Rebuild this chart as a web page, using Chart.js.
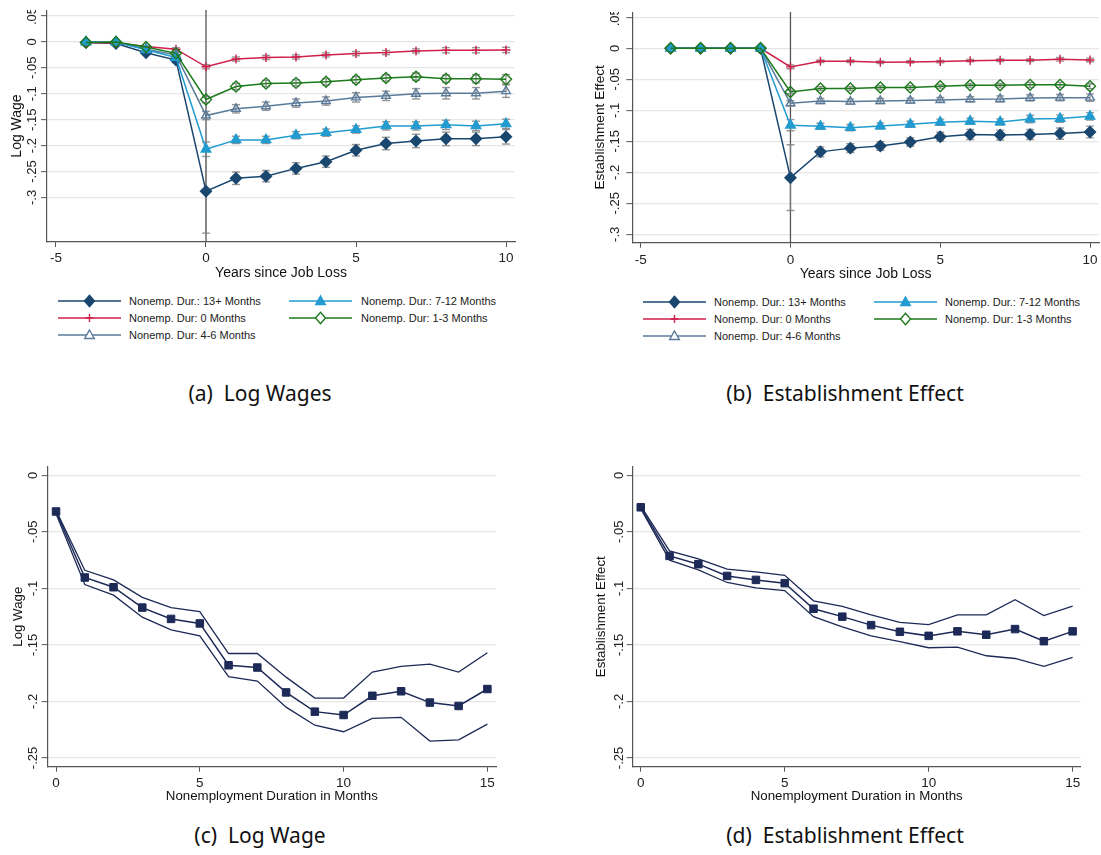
<!DOCTYPE html>
<html><head><meta charset="utf-8">
<script src="https://cdn.jsdelivr.net/npm/chart.js"></script>
<style>
html,body{margin:0;padding:0;background:#fff;}
body{width:1101px;height:855px;position:relative;overflow:hidden;font-family:"Liberation Sans",Arial,sans-serif;}
canvas{position:absolute;}
.cap{position:absolute;font-family:"Noto Sans",sans-serif;font-size:21px;color:#111;transform:translate(-50%,-50%);white-space:pre;}
.lg{position:absolute;font-size:11px;color:#222;white-space:nowrap;line-height:14px;}
svg.sym{position:absolute;overflow:visible;}
</style></head><body>
<canvas id="ca" width="530" height="280" style="left:0;top:10px"></canvas>
<canvas id="cb" width="521" height="278" style="left:580px;top:12px"></canvas>
<canvas id="cc" width="530" height="350" style="left:0;top:460px"></canvas>
<canvas id="cd" width="521" height="350" style="left:580px;top:460px"></canvas>
<div class="cap" style="left:260px;top:393px">(a)  Log Wages</div>
<div class="cap" style="left:845px;top:393px">(b)  Establishment Effect</div>
<div class="cap" style="left:260px;top:835px">(c)  Log Wage</div>
<div class="cap" style="left:845px;top:835px">(d)  Establishment Effect</div>
<div id="legends"></div>
<script>
// ---------- DATA ----------
const xYears = [-4,-3,-2,-1,0,1,2,3,4,5,6,7,8,9,10];
const xTicksYears = [-5,0,5,10];
const xMonths = [0,1,2,3,4,5,6,7,8,9,10,11,12,13,14,15];
const xTicksMonths = [0,5,10,15];
const yTicksTop = [0.05,0,-0.05,-0.1,-0.15,-0.2,-0.25,-0.3];
const yTickLabelsTop = ['.05','0','-.05','-.1','-.15','-.2','-.25','-.3'];
const yTicksBottom = [0,-0.05,-0.1,-0.15,-0.2,-0.25];
const yTickLabelsBottom = ['0','-.05','-.1','-.15','-.2','-.25'];
const seriesNames = ['Nonemp. Dur.: 13+ Months','Nonemp. Dur: 0 Months','Nonemp. Dur: 4-6 Months','Nonemp. Dur.: 7-12 Months','Nonemp. Dur: 1-3 Months'];

// (a) Log wage by years since job loss
const wage13plus = [-0.001,-0.003,-0.021,-0.035,-0.288,-0.263,-0.259,-0.244,-0.231,-0.209,-0.196,-0.191,-0.187,-0.187,-0.183];
const wage0      = [-0.001,-0.002,-0.009,-0.014,-0.048,-0.033,-0.030,-0.029,-0.025,-0.0225,-0.0206,-0.0174,-0.016,-0.016,-0.0155];
const wage4to6   = [0,0,-0.014,-0.025,-0.142,-0.129,-0.124,-0.118,-0.114,-0.107,-0.104,-0.100,-0.099,-0.099,-0.095];
const wage7to12  = [0,0,-0.015,-0.030,-0.207,-0.189,-0.189,-0.180,-0.175,-0.169,-0.162,-0.162,-0.160,-0.162,-0.158];
const wage1to3   = [-0.001,0,-0.010,-0.022,-0.111,-0.086,-0.080,-0.079,-0.077,-0.073,-0.0695,-0.067,-0.071,-0.071,-0.072];
const wage13plusCI = [0.002,0.003,0.004,0.005,0.081,0.012,0.011,0.011,0.011,0.011,0.012,0.013,0.013,0.013,0.014];
const wage0CI      = [0.001,0.001,0.002,0.003,0.004,0.004,0.004,0.004,0.004,0.004,0.004,0.004,0.005,0.005,0.005];
const wage4to6CI   = [0.001,0.002,0.003,0.004,0.008,0.008,0.008,0.008,0.008,0.009,0.009,0.010,0.011,0.011,0.012];
const wage7to12CI  = [0.001,0.002,0.003,0.004,0.014,0.007,0.007,0.007,0.007,0.007,0.008,0.008,0.009,0.009,0.009];
const wage1to3CI   = [0.001,0.001,0.002,0.003,0.006,0.006,0.006,0.006,0.006,0.006,0.006,0.007,0.007,0.008,0.009];

// (b) Establishment effect by years since job loss
const estab13plus = [0,0,0,0,-0.2086,-0.167,-0.161,-0.1575,-0.151,-0.1425,-0.139,-0.140,-0.139,-0.1376,-0.135];
const estab0      = [0,0,0,0,-0.030,-0.021,-0.021,-0.0226,-0.022,-0.0215,-0.020,-0.0194,-0.0194,-0.0177,-0.0188];
const estab4to6   = [0,0,0,0,-0.0887,-0.085,-0.086,-0.085,-0.0844,-0.0833,-0.0822,-0.0817,-0.080,-0.0796,-0.0796];
const estab7to12  = [0,0,0,0,-0.124,-0.1258,-0.128,-0.1253,-0.1226,-0.1193,-0.1177,-0.1188,-0.114,-0.1134,-0.1097];
const estab1to3   = [0,0,0,0,-0.0704,-0.065,-0.065,-0.0634,-0.0634,-0.0613,-0.0597,-0.0597,-0.059,-0.059,-0.0613];
const estab13plusCI = [0,0,0,0,0.053,0.008,0.007,0.007,0.007,0.007,0.008,0.008,0.008,0.009,0.0095];
const estab0CI      = [0,0,0,0,0.003,0.002,0.002,0.002,0.002,0.002,0.002,0.002,0.002,0.003,0.003];
const estab4to6CI   = [0,0,0,0,0.004,0.004,0.004,0.004,0.004,0.004,0.004,0.005,0.005,0.005,0.006];
const estab7to12CI  = [0,0,0,0,0.009,0.005,0.005,0.005,0.005,0.005,0.005,0.005,0.006,0.006,0.006];
const estab1to3CI   = [0,0,0,0,0.003,0.003,0.003,0.003,0.003,0.003,0.003,0.003,0.004,0.004,0.004];

// (c) Log wage by nonemployment duration
const wageDurEst   = [-0.032,-0.0904,-0.099,-0.117,-0.127,-0.131,-0.168,-0.170,-0.192,-0.209,-0.212,-0.195,-0.191,-0.201,-0.204,-0.189];
const wageDurUpper = [-0.031,-0.084,-0.0925,-0.108,-0.117,-0.1205,-0.1576,-0.1576,-0.1785,-0.197,-0.197,-0.174,-0.169,-0.167,-0.174,-0.157];
const wageDurLower = [-0.034,-0.0966,-0.106,-0.1255,-0.1367,-0.142,-0.178,-0.182,-0.205,-0.221,-0.2268,-0.215,-0.214,-0.235,-0.234,-0.220];

// (d) Establishment effect by nonemployment duration
const estabDurEst   = [-0.0283,-0.0713,-0.0786,-0.089,-0.0925,-0.0954,-0.118,-0.125,-0.1325,-0.1384,-0.142,-0.138,-0.141,-0.136,-0.1467,-0.138];
const estabDurUpper = [-0.027,-0.0668,-0.074,-0.083,-0.0854,-0.0884,-0.111,-0.116,-0.1234,-0.130,-0.132,-0.1234,-0.1234,-0.110,-0.124,-0.1157];
const estabDurLower = [-0.0295,-0.075,-0.0836,-0.0948,-0.0995,-0.102,-0.125,-0.134,-0.142,-0.147,-0.1525,-0.152,-0.1596,-0.162,-0.169,-0.161];

// ---------- STYLES ----------
const CI_COLOR = 'rgba(125,125,125,0.8)';
const NAVY2 = '#1d2a57';
const seriesStyles = [
  {color:'#1a476f', ps:'rectRot', r:5.5, fill:true,  order:5},
  {color:'#cf1f4a', ps:'cross',   r:4.5, fill:false, order:4},
  {color:'#5a7b9a', ps:'triangle',r:5,   fill:false, order:3},
  {color:'#229bd0', ps:'triangle',r:5.5, fill:true,  order:2},
  {color:'#1c7a1c', ps:'rectRot', r:5.5, fill:false, order:1}
];

Chart.defaults.font.family = '"Liberation Sans", Arial, sans-serif';
Chart.defaults.color = '#222';

function pts(xs, ys){ return xs.map((x,i)=>({x:x, y:ys[i]})); }
function ciData(xs, est, half){
  const out = [];
  xs.forEach((x,i)=>{ out.push({x:x,y:est[i]-half[i]},{x:x,y:est[i]+half[i]},{x:x,y:null}); });
  return out;
}

function makeChart(id, L, datasets){
  return new Chart(document.getElementById(id), {
    type:'line',
    data:{datasets:datasets},
    options:{
      responsive:false, animation:false, events:[],
      layout:{autoPadding:false, padding:L.pad},
      plugins:{legend:{display:false}, tooltip:{enabled:false}},
      scales:{
        x:{type:'linear', min:L.xMin, max:L.xMax, offset:false,
          afterBuildTicks:s=>{ s.ticks = L.xTicks.map(v=>({value:v})); },
          afterFit:s=>{ s.height = L.xH; s.paddingLeft = 0; s.paddingRight = 0; },
          ticks:{font:{size:13.5}, color:'#222', padding:L.xTickPad, maxRotation:0, minRotation:0, autoSkip:false, callback:v=>String(v)},
          grid:{drawOnChartArea:false, drawTicks:true, tickLength:5, tickColor:'#555', tickWidth:1},
          border:{display:true, color:'#555', width:1.2},
          title:{display:true, text:L.xTitle, font:{size:L.xTitleSize}, color:'#111', padding:{top:0,bottom:L.xTitlePad}}
        },
        y:{type:'linear', min:L.yMin, max:L.yMax,
          afterBuildTicks:s=>{ s.ticks = L.yTicks.map(v=>({value:v})); },
          afterFit:s=>{ s.width = L.yW; s.paddingTop = 0; s.paddingBottom = 0; },
          ticks:{font:{size:13}, color:'#222', padding:L.yTickPad, minRotation:90, maxRotation:90, crossAlign:'center', autoSkip:false,
            callback:v=>L.yTickLabels[L.yTicks.indexOf(v)]},
          grid:{color:'#e6e6e6', lineWidth:1.3, drawTicks:true, tickLength:6, tickColor:'#555', tickWidth:1},
          border:{display:true, color:'#555', width:1.2},
          title:{display:true, text:L.yTitle, font:{size:L.yTitleSize}, color:'#111', padding:{top:L.yTitlePad,bottom:0}}
        }
      }
    }
  });
}

function eventDatasets(est, ci, yMin, yMax){
  const ds = [];
  est.forEach((ys,k)=>{
    const st = seriesStyles[k];
    ds.push({label:seriesNames[k], data:pts(xYears, ys), borderColor:st.color, borderWidth:1.5, tension:0,
      pointStyle:st.ps, pointRadius:st.r, pointBorderColor:st.color, pointBorderWidth:1.4,
      pointBackgroundColor: st.fill ? st.color : 'rgba(0,0,0,0)', order:st.order});
    ds.push({data:ciData(xYears, ys, ci[k]), borderColor:CI_COLOR, borderWidth:1.4, spanGaps:false,
      pointStyle:'line', pointRadius:4, pointBorderColor:CI_COLOR, pointBorderWidth:1.4, pointBackgroundColor:CI_COLOR, order:20});
  });
  ds.push({data:[{x:0,y:yMin},{x:0,y:yMax}], borderColor:'#555', borderWidth:1.3, pointRadius:0, order:30});
  return ds;
}
function durDatasets(est, up, lo){
  return [
    {data:pts(xMonths, up), borderColor:NAVY2, borderWidth:1.3, pointRadius:0, tension:0, order:3},
    {data:pts(xMonths, lo), borderColor:NAVY2, borderWidth:1.3, pointRadius:0, tension:0, order:2},
    {data:pts(xMonths, est), borderColor:NAVY2, borderWidth:1.5, pointStyle:'rect', pointRadius:5.3,
      pointBackgroundColor:NAVY2, pointBorderColor:NAVY2, pointBorderWidth:1, tension:0, order:1}
  ];
}

const LA = {pad:{left:0,top:0,right:15,bottom:0}, yW:47, xH:48, yMin:-0.386, yMax:0.0616, xMin:-5.3, xMax:10.3,
  xTicks:xTicksYears, yTicks:yTicksTop, yTickLabels:yTickLabelsTop, xTickPad:2.9, yTickPad:-2.2,
  xTitle:'Years since Job Loss', xTitleSize:14, xTitlePad:8.6, yTitle:'Log Wage', yTitleSize:14, yTitlePad:8.6};
const LB = {pad:{left:0,top:0,right:2,bottom:0}, yW:52.3, xH:47.3, yMin:-0.3135, yMax:0.0585, xMin:-5.28, xMax:10.3,
  xTicks:xTicksYears, yTicks:yTicksTop, yTickLabels:yTickLabelsTop, xTickPad:4.2, yTickPad:-0.7,
  xTitle:'Years since Job Loss', xTitleSize:14, xTitlePad:7.6, yTitle:'Establishment Effect', yTitleSize:13.7, yTitlePad:12.5};
const LC = {pad:{left:0,top:6.7,right:34,bottom:0}, yW:47.7, xH:43.3, yMin:-0.2577, yMax:0.0076, xMin:-0.29, xMax:15.3,
  xTicks:xTicksMonths, yTicks:yTicksBottom, yTickLabels:yTickLabelsBottom, xTickPad:3.5, yTickPad:-3.2,
  xTitle:'Nonemployment Duration in Months', xTitleSize:13.3, xTitlePad:5.3, yTitle:'Log Wage', yTitleSize:13.3, yTitlePad:10.3};
const LD = {pad:{left:0,top:6.7,right:20.3,bottom:0}, yW:52.7, xH:43.3, yMin:-0.2577, yMax:0.0076, xMin:-0.28, xMax:15.28,
  xTicks:xTicksMonths, yTicks:yTicksBottom, yTickLabels:yTickLabelsBottom, xTickPad:3.5, yTickPad:-3.8,
  xTitle:'Nonemployment Duration in Months', xTitleSize:13.3, xTitlePad:5.3, yTitle:'Establishment Effect', yTitleSize:13.3, yTitlePad:13.7};

makeChart('ca', LA, eventDatasets([wage13plus,wage0,wage4to6,wage7to12,wage1to3],[wage13plusCI,wage0CI,wage4to6CI,wage7to12CI,wage1to3CI], LA.yMin, LA.yMax));
makeChart('cb', LB, eventDatasets([estab13plus,estab0,estab4to6,estab7to12,estab1to3],[estab13plusCI,estab0CI,estab4to6CI,estab7to12CI,estab1to3CI], LB.yMin, LB.yMax));
makeChart('cc', LC, durDatasets(wageDurEst, wageDurUpper, wageDurLower));
makeChart('cd', LD, durDatasets(estabDurEst, estabDurUpper, estabDurLower));

// ---------- LEGENDS (HTML) ----------
function symbolSVG(st){
  const cx = 31.5, cy = 7;
  let m = '';
  if (st.ps === 'rectRot') m = `<polygon points="${cx-5},${cy} ${cx},${cy-5.8} ${cx+5},${cy} ${cx},${cy+5.8}" fill="${st.fill?st.color:'#fff'}" stroke="${st.color}" stroke-width="1.4"/>`;
  else if (st.ps === 'cross') m = `<path d="M${cx-4} ${cy}H${cx+4}M${cx} ${cy-4}V${cy+4}" stroke="${st.color}" stroke-width="1.4"/>`;
  else m = `<polygon points="${cx},${cy-5} ${cx+4.8},${cy+3.5} ${cx-4.8},${cy+3.5}" fill="${st.fill?st.color:'#fff'}" stroke="${st.color}" stroke-width="1.4"/>`;
  return `<line x1="0" y1="${cy}" x2="63" y2="${cy}" stroke="${st.color}" stroke-width="1.6"/>` + m;
}
const legendSlots = [[0,0],[0,1],[0,2],[1,0],[1,1]]; // [col,row] per series
function buildLegend(col1Line, col2Line, col1Text, col2Text, rows){
  const host = document.getElementById('legends');
  seriesNames.forEach((name,k)=>{
    const [c,r] = legendSlots[k];
    const lx = c===0?col1Line:col2Line, tx = c===0?col1Text:col2Text, cy = rows[r];
    const svg = document.createElementNS('http://www.w3.org/2000/svg','svg');
    svg.setAttribute('class','sym'); svg.setAttribute('width','64'); svg.setAttribute('height','14');
    svg.style.left = lx+'px'; svg.style.top = (cy-7)+'px';
    svg.innerHTML = symbolSVG(seriesStyles[k]);
    host.appendChild(svg);
    const d = document.createElement('div'); d.className='lg'; d.textContent = name;
    d.style.left = tx+'px'; d.style.top = (cy-7)+'px';
    host.appendChild(d);
  });
}
buildLegend(58, 289, 129, 361, [301,318,335]);
buildLegend(642.5, 874, 714, 945, [301.7,319,335.7]);
</script>
</body></html>
